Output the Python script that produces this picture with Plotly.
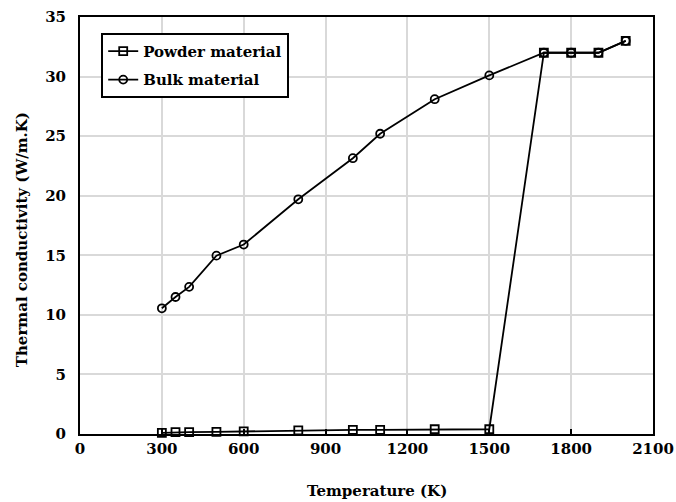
import plotly.graph_objects as go

temps_powder = [300, 350, 400, 500, 600, 800, 1000, 1100, 1300, 1500, 1700, 1800, 1900, 2000]
powder_k = [0.1, 0.15, 0.15, 0.18, 0.22, 0.3, 0.35, 0.35, 0.4, 0.4, 32.0, 32.0, 32.0, 33.0]

temps_bulk = [300, 350, 400, 500, 600, 800, 1000, 1100, 1300, 1500, 1700, 1800, 1900, 2000]
bulk_k = [10.55, 11.5, 12.35, 14.97, 15.9, 19.7, 23.15, 25.2, 28.1, 30.1, 32.0, 32.0, 32.0, 33.0]

x_ticks = [0, 300, 600, 900, 1200, 1500, 1800, 2100]
y_ticks = [0, 5, 10, 15, 20, 25, 30, 35]

x_title = "Temperature (K)"
y_title = "Thermal conductivity (W/m.K)"

FONT = "DejaVu Serif"

fig = go.Figure()
fig.add_trace(go.Scatter(
    x=temps_powder, y=powder_k, name="<b>Powder material</b>",
    mode="lines+markers", legendgroup="powder",
    line=dict(color="black", width=1.8),
    marker=dict(symbol="square-open", size=8, color="black", line=dict(width=1.8)),
    cliponaxis=False,
))
fig.add_trace(go.Scatter(
    x=temps_bulk, y=bulk_k, name="<b>Bulk material</b>",
    mode="lines+markers", legendgroup="bulk",
    line=dict(color="black", width=1.8),
    marker=dict(symbol="circle-open", size=8, color="black", line=dict(width=1.8)),
    cliponaxis=False,
))

fig.update_layout(
    width=676, height=502,
    margin=dict(l=80, r=23, t=17, b=68),
    paper_bgcolor="white", plot_bgcolor="white",
    font=dict(family=FONT, size=15, color="black"),
    showlegend=True,
    legend=dict(
        x=0.037, y=0.962, xanchor="left", yanchor="top",
        bgcolor="white", bordercolor="black", borderwidth=2,
        font=dict(family=FONT, size=15, color="black"),
        tracegroupgap=6, itemwidth=30,
    ),
    xaxis=dict(
        range=[0, 2100], tickvals=x_ticks, ticktext=[f"<b>{v}</b>" for v in x_ticks],
        showgrid=True, gridcolor="#d9d9d9", gridwidth=2,
        showline=True, linecolor="black", linewidth=2, mirror=True,
        ticks="inside", ticklen=5, tickcolor="black", tickwidth=1.5,
        zeroline=False, automargin=False, ticklabeloverflow="allow",
        tickfont=dict(family=FONT, size=15),
    ),
    yaxis=dict(
        range=[0, 35], tickvals=y_ticks, ticktext=[f"<b>{v}</b>" for v in y_ticks],
        showgrid=True, gridcolor="#d9d9d9", gridwidth=2,
        showline=True, linecolor="black", linewidth=2, mirror=True,
        ticks="", zeroline=False, automargin=False, ticklabelstandoff=9,
        ticklabeloverflow="allow",
        tickfont=dict(family=FONT, size=15),
    ),
    annotations=[
        dict(text=f"<b>{x_title}</b>", xref="paper", yref="paper",
             x=0.518, y=-0.137, xanchor="center", yanchor="middle",
             showarrow=False, font=dict(family=FONT, size=15)),
        dict(text=f"<b>{y_title}</b>", xref="paper", yref="paper",
             x=-0.101, y=0.465, xanchor="center", yanchor="middle", textangle=-90,
             showarrow=False, font=dict(family=FONT, size=15)),
    ],
)

fig.write_html(
    "out.html",
    config={"displayModeBar": False},
    post_script="document.body.style.margin='0';document.body.style.overflow='hidden';",
)
